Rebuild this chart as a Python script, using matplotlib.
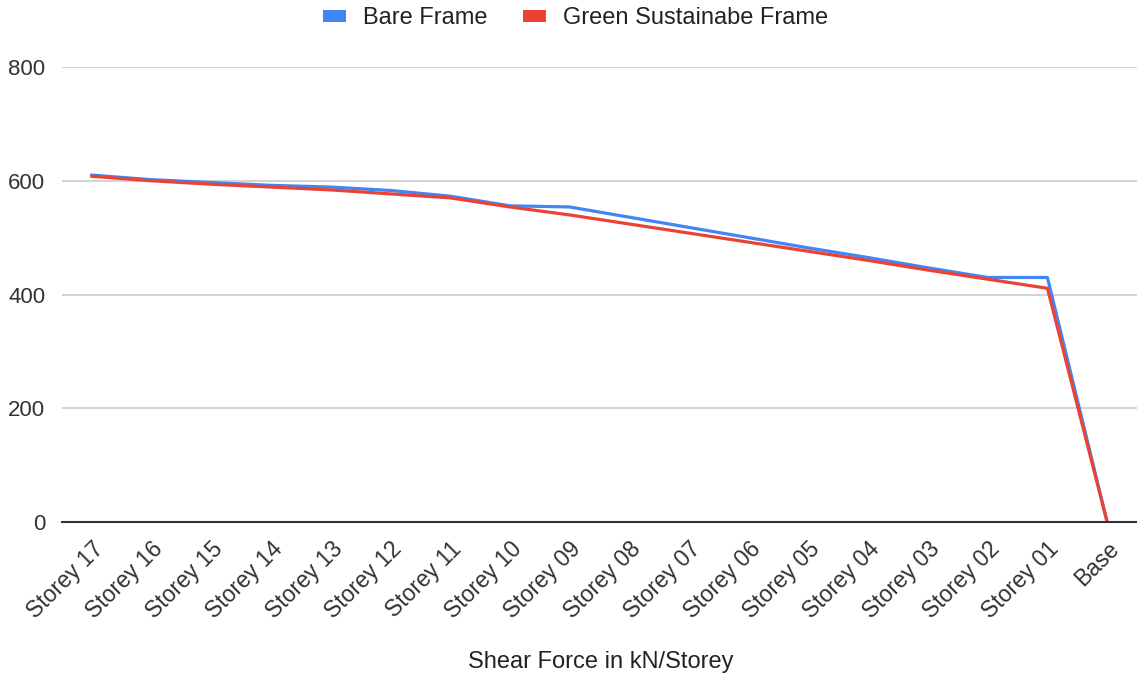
import matplotlib as mpl
mpl.use('agg')
import matplotlib.pyplot as plt
from matplotlib.patches import Patch

plt.rcParams['font.family'] = ['Liberation Sans', 'DejaVu Sans']

storeys = ['Storey 17', 'Storey 16', 'Storey 15', 'Storey 14', 'Storey 13', 'Storey 12',
           'Storey 11', 'Storey 10', 'Storey 09', 'Storey 08', 'Storey 07', 'Storey 06',
           'Storey 05', 'Storey 04', 'Storey 03', 'Storey 02', 'Storey 01', 'Base']
bare = [610, 602, 597, 592, 589, 583, 573, 556, 554, 536, 518, 500,
        482, 465, 447, 430, 430, 0]
green = [608, 600, 594, 589, 584, 577, 570, 554, 540, 524, 508, 492,
         476, 460, 443, 427, 411, 0]

blue = '#4285F4'
red = '#EA4335'

fig = plt.figure(figsize=(11.37, 6.81), dpi=100)
ax = fig.add_axes([0.0545, 0.2335, 0.9455, 0.668])

x = range(len(storeys))
ax.plot(x, bare, color=blue, linewidth=2.3, zorder=3)
ax.plot(x, green, color=red, linewidth=2.3, zorder=4)

ax.set_xlim(-0.5, len(storeys) - 0.5)
ax.set_ylim(0, 800)
ax.set_yticks([0, 200, 400, 600, 800])
ax.set_xticks(list(x))
ax.set_xticklabels(storeys, rotation=45, ha='right', rotation_mode='anchor', fontsize=16.5, color='#333333')
ax.tick_params(axis='y', labelsize=16, labelcolor='#333333', length=0, pad=12)
ax.tick_params(axis='x', length=0, pad=11)

ax.grid(axis='y', color='#cccccc', linewidth=1.2)
ax.set_axisbelow(True)
for s in ['top', 'right', 'left']:
    ax.spines[s].set_visible(False)
ax.spines['bottom'].set_color('#333333')
ax.spines['bottom'].set_linewidth(1.5)
ax.spines['bottom'].set_zorder(5)

fig.text(0.528, 0.012, 'Shear Force in kN/Storey', ha='center', va='bottom', fontsize=17, color='#222222')

handles = [Patch(facecolor=blue, label='Bare Frame'),
           Patch(facecolor=red, label='Green Sustainabe Frame')]
fig.legend(handles=handles, loc='center', bbox_to_anchor=(0.506, 0.973), ncol=2, frameon=False,
           fontsize=17, handlelength=1.0, handleheight=0.42, handletextpad=0.7, columnspacing=1.5,
           labelcolor='#222222', borderaxespad=0, borderpad=0)

fig.savefig('out.png', dpi=100)
